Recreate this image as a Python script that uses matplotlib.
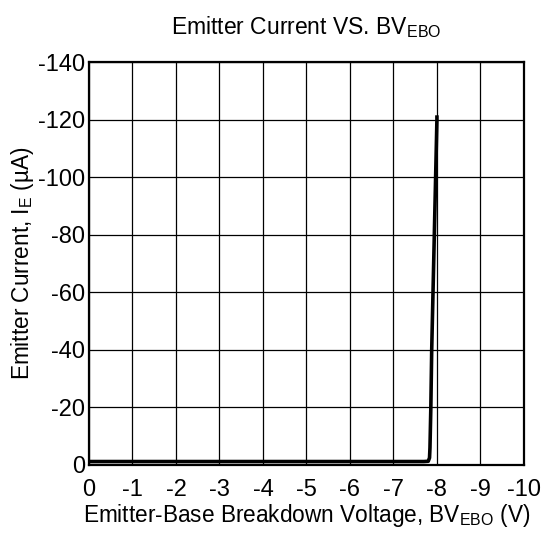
import matplotlib
matplotlib.use("Agg")
import matplotlib.pyplot as plt

plt.rcParams['font.family'] = ['Liberation Sans', 'DejaVu Sans']
plt.rcParams['mathtext.fontset'] = 'custom'
plt.rcParams['mathtext.rm'] = 'Liberation Sans'

# emitter-base voltage (V) and emitter current (uA)
voltage = [0, -2, -4, -6, -7.0, -7.7, -7.80, -7.83, -7.84, -7.86, -7.88, -7.91, -7.94, -7.97, -8.0, -8.0]
current = [-1.2, -1.2, -1.2, -1.2, -1.2, -1.2, -1.3, -2.5, -6, -20, -40, -60, -80, -100, -120, -121.5]

x_ticks = [0, -1, -2, -3, -4, -5, -6, -7, -8, -9, -10]
y_ticks = [0, -20, -40, -60, -80, -100, -120, -140]

fig = plt.figure(figsize=(5.45, 5.33), dpi=100)
ax = fig.add_axes([0.1633, 0.1276, 0.798, 0.756])

ax.plot(voltage, current, color='black', linewidth=2.6, solid_capstyle='butt')

ax.set_xlim(0, -10)
ax.set_ylim(0, -140)
ax.set_xticks(x_ticks)
ax.set_xticklabels([str(t) for t in x_ticks])
ax.set_yticks(y_ticks)
ax.set_yticklabels([str(t) for t in y_ticks])
ax.tick_params(axis='x', length=0, labelsize=17, pad=10)
ax.tick_params(axis='y', length=0, labelsize=17, pad=3)
ax.grid(True, color='black', linewidth=0.9)
for s in ax.spines.values():
    s.set_linewidth(1.6)

ax.set_title(r'Emitter Current VS. BV$_{\mathrm{EBO}}$', fontsize=16.5, pad=20)
ax.set_xlabel(r'Emitter-Base Breakdown Voltage, BV$_{\mathrm{EBO}}$ (V)', fontsize=16.3, labelpad=1)
ax.set_ylabel(r'Emitter Current, I$_{\mathrm{E}}$ (µA)', fontsize=16.3, labelpad=1)

fig.savefig('out.png', dpi=100)
